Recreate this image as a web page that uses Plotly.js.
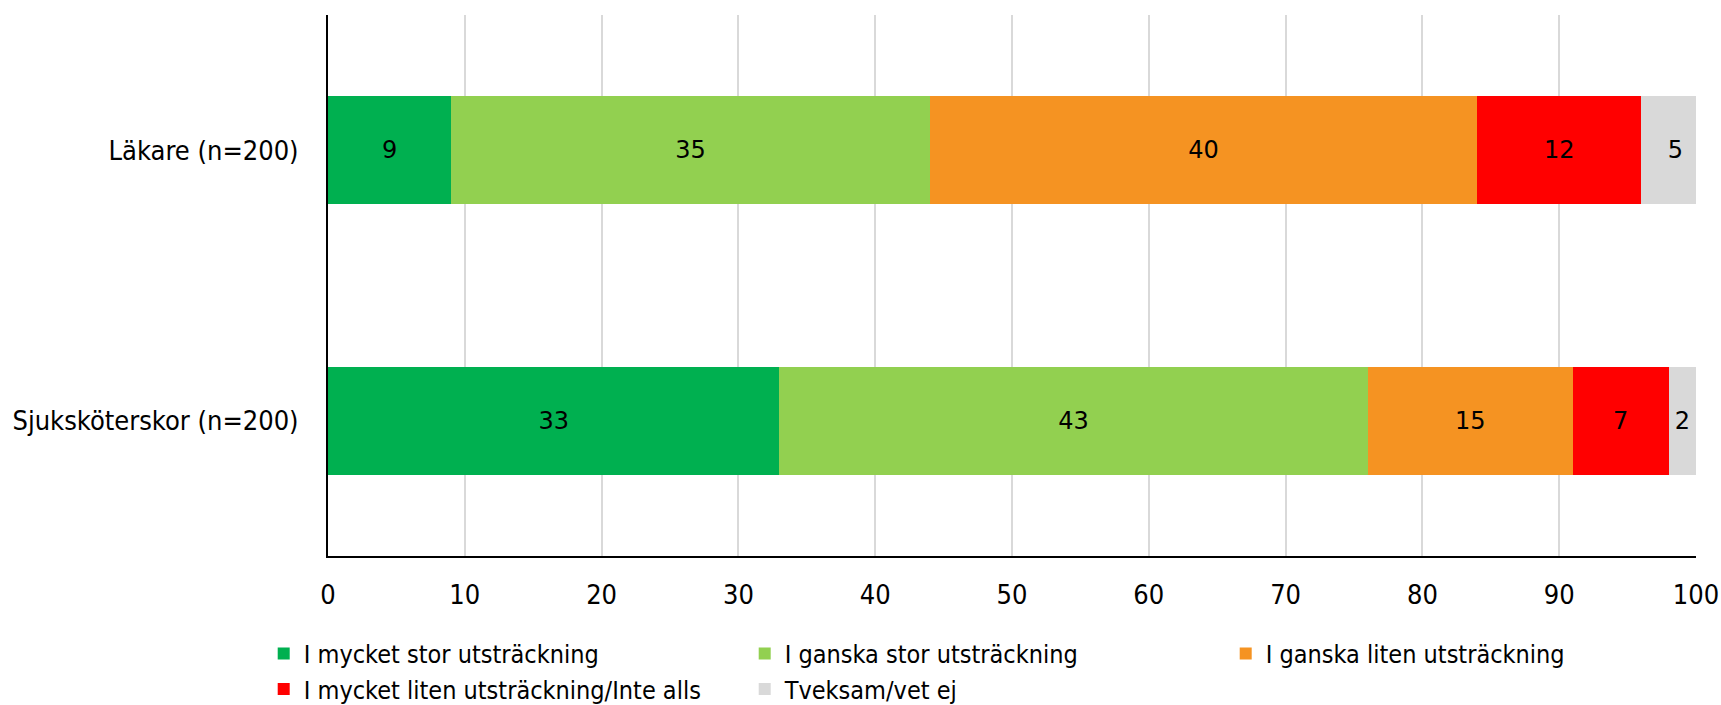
<!DOCTYPE html>
<html>
<head>
<meta charset="utf-8">
<script src="https://cdn.plot.ly/plotly-3.0.1.min.js"></script>
<style>
html,body{margin:0;padding:0;background:#fff;}
#chart{width:1721px;height:705px;}
</style>
</head>
<body>
<div id="chart"></div>
<script>
var categories = ["Läkare (n=200)", "Sjuksköterskor (n=200)"];
var seriesNames = [
  "I mycket stor utsträckning",
  "I ganska stor utsträckning",
  "I ganska liten utsträckning",
  "I mycket liten utsträckning/Inte alls",
  "Tveksam/vet ej"
];
var mycketStor = [9, 33];
var ganskaStor = [35, 43];
var ganskaLiten = [40, 15];
var mycketLiten = [12, 7];
var tveksam = [5, 2];
var colors = ["#00b050", "#92d050", "#f59322", "#ff0000", "#d9d9d9"];
var xTicks = [0, 10, 20, 30, 40, 50, 60, 70, 80, 90, 100];

var seriesValues = [mycketStor, ganskaStor, ganskaLiten, mycketLiten, tveksam];
var labelFont = "DejaVu Sans Condensed, DejaVu Sans, sans-serif";

var data = seriesValues.map(function(vals, i) {
  return {
    type: "bar",
    orientation: "h",
    name: seriesNames[i],
    y: categories,
    x: vals,
    marker: {color: colors[i], line: {width: 0}},
    text: vals.map(String),
    textposition: "inside",
    insidetextanchor: "middle",
    textangle: 0,
    insidetextfont: {family: "DejaVu Sans, sans-serif", size: 24, color: "#000000"},
    hoverinfo: "none"
  };
});

var layout = {
  width: 1721,
  height: 705,
  margin: {l: 328, r: 25, t: 15, b: 149, autoexpand: false},
  barmode: "stack",
  bargap: 0.6,
  paper_bgcolor: "#ffffff",
  plot_bgcolor: "#ffffff",
  showlegend: true,
  font: {family: labelFont, size: 27, color: "#000000"},
  xaxis: {
    range: [0, 100],
    tickvals: xTicks,
    ticktext: xTicks.map(String),
    showgrid: true,
    gridcolor: "#d9d9d9",
    gridwidth: 2,
    zeroline: false,
    showline: true,
    linecolor: "#000000",
    linewidth: 2,
    ticks: "",
    ticklabelstandoff: 14,
    tickfont: {family: labelFont, size: 27, color: "#000000"},
    fixedrange: true
  },
  yaxis: {
    type: "category",
    categoryorder: "array",
    categoryarray: categories,
    autorange: "reversed",
    showgrid: false,
    zeroline: false,
    showline: true,
    linecolor: "#000000",
    linewidth: 2,
    ticks: "",
    ticklabelstandoff: 22,
    tickfont: {family: labelFont, size: 27, color: "#000000"},
    fixedrange: true
  },
  legend: {
    orientation: "h",
    x: -0.047,
    xanchor: "left",
    y: -0.138,
    yanchor: "top",
    traceorder: "normal",
    entrywidth: 436,
    entrywidthmode: "pixels",
    font: {family: labelFont, size: 25, color: "#000000"},
    bgcolor: "rgba(0,0,0,0)"
  },
  hovermode: false
};

Plotly.newPlot("chart", data, layout, {displayModeBar: false, staticPlot: true});
</script>
</body>
</html>
